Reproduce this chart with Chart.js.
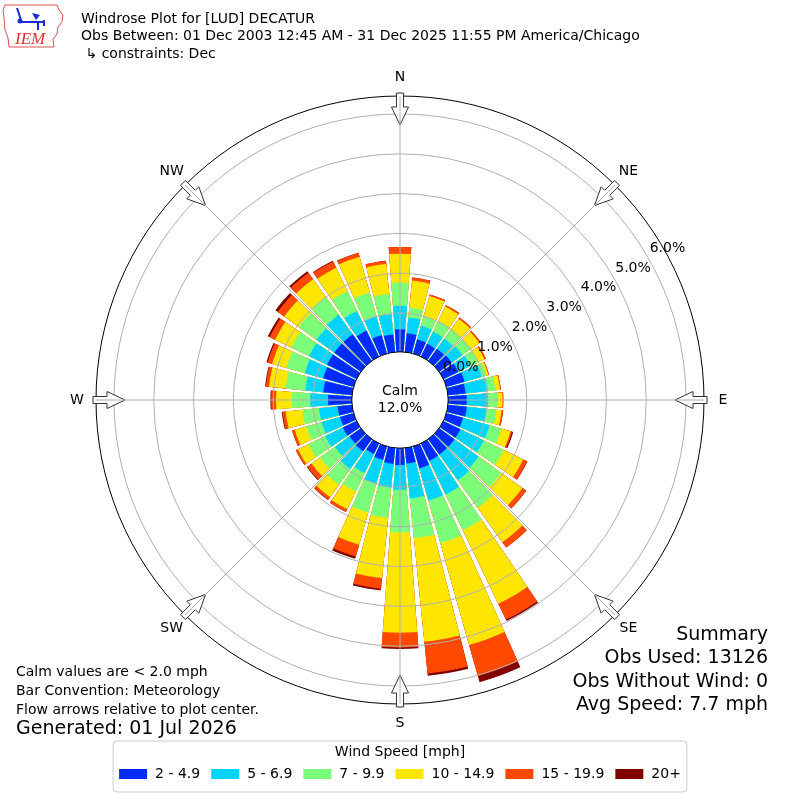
<!DOCTYPE html>
<html>
<head>
<meta charset="utf-8">
<title>Windrose LUD</title>
<script src="https://cdn.jsdelivr.net/npm/chart.js@4.4.0/dist/chart.umd.min.js"></script>
<style>
  html, body { margin: 0; padding: 0; background: #fff; }
  #wrap { width: 800px; height: 800px; }
</style>
</head>
<body>
<div id="wrap"><canvas id="rose" width="800" height="800"></canvas></div>
<script>
// wind directions (deg, meteorological) and speed bins
const directions = [0, 10, 20, 30, 40, 50, 60, 70, 80, 90, 100, 110, 120, 130, 140, 150, 160, 170,
  180, 190, 200, 210, 220, 230, 240, 250, 260, 270, 280, 290, 300, 310, 320, 330, 340, 350];
const speedBins = ['2 - 4.9', '5 - 6.9', '7 - 9.9', '10 - 14.9', '15 - 19.9', '20+'];
const binColors = ['#002bff', '#00d4ff', '#7bff7b', '#ffe600', '#ff4800', '#800000'];

// frequency [%] per direction for each speed bin
const bin2to5 = [0.59, 0.50, 0.40, 0.38, 0.40, 0.42, 0.44, 0.50, 0.47, 0.49, 0.50, 0.46, 0.50, 0.50, 0.50, 0.51, 0.60, 0.42,
  0.45, 0.43, 0.38, 0.32, 0.40, 0.38, 0.41, 0.38, 0.39, 0.62, 0.75, 0.82, 0.85, 0.85, 0.85, 0.75, 0.51, 0.47];
const bin5to7 = [0.59, 0.40, 0.35, 0.34, 0.32, 0.33, 0.34, 0.45, 0.56, 0.54, 0.50, 0.69, 0.65, 0.75, 0.80, 0.94, 0.84, 0.88,
  0.62, 0.60, 0.62, 0.53, 0.55, 0.45, 0.49, 0.48, 0.47, 0.45, 0.45, 0.48, 0.50, 0.55, 0.60, 0.55, 0.49, 0.51];
const bin7to10 = [0.58, 0.25, 0.25, 0.30, 0.28, 0.25, 0.22, 0.12, 0.19, 0.25, 0.25, 0.31, 0.55, 0.70, 0.85, 1.00, 1.11, 1.00,
  1.07, 0.76, 0.75, 0.52, 0.49, 0.46, 0.47, 0.40, 0.42, 0.46, 0.50, 0.48, 0.50, 0.55, 0.55, 0.55, 0.62, 0.51];
const bin10to15 = [0.73, 0.68, 0.53, 0.40, 0.33, 0.27, 0.17, 0.05, 0.12, 0.11, 0.13, 0.24, 0.55, 0.65, 1.07, 2.05, 2.66, 2.62,
  2.52, 1.52, 0.84, 0.49, 0.38, 0.26, 0.29, 0.30, 0.42, 0.40, 0.42, 0.37, 0.45, 0.45, 0.55, 0.65, 0.93, 0.76];
const bin15to20 = [0.17, 0.08, 0.04, 0.04, 0.04, 0.04, 0.04, 0.02, 0.02, 0.02, 0.04, 0.04, 0.11, 0.12, 0.16, 0.44, 0.81, 0.80,
  0.37, 0.27, 0.31, 0.08, 0.08, 0.13, 0.06, 0.07, 0.08, 0.12, 0.08, 0.12, 0.15, 0.20, 0.20, 0.18, 0.10, 0.08];
const bin20up = [0.00, 0.00, 0.00, 0.00, 0.00, 0.00, 0.00, 0.00, 0.00, 0.00, 0.00, 0.03, 0.01, 0.00, 0.00, 0.04, 0.16, 0.06,
  0.04, 0.04, 0.06, 0.00, 0.01, 0.02, 0.00, 0.00, 0.02, 0.02, 0.02, 0.03, 0.05, 0.07, 0.05, 0.02, 0.01, 0.00];

const ringTicks = [0, 1, 2, 3, 4, 5, 6];
const compassLabels = ['N', 'NE', 'E', 'SE', 'S', 'SW', 'W', 'NW'];
const calmPct = 12.0;

const titleLines = ['Windrose Plot for [LUD] DECATUR',
  'Obs Between: 01 Dec 2003 12:45 AM - 31 Dec 2025 11:55 PM America/Chicago',
  ' \u21b3 constraints: Dec'];
const summaryLines = ['Summary', 'Obs Used: 13126', 'Obs Without Wind: 0', 'Avg Speed: 7.7 mph'];
const noteLines = ['Calm values are < 2.0 mph', 'Bar Convention: Meteorology', 'Flow arrows relative to plot center.'];
const generatedLine = 'Generated: 01 Jul 2026';

// radial axis: 0% sits on the edge of the calm circle
const R_MIN = -1.186, R_MAX = 6.452;
const BAR_SPAN = 8.5;           // degrees of each 10 deg sector that is filled
const FONT = '"DejaVu Sans", sans-serif';

const binSeries = [bin2to5, bin5to7, bin7to10, bin10to15, bin15to20, bin20up];

// stacked rose: each dataset holds cumulative totals, smallest drawn on top
const running = directions.map(() => 0);
const datasets = binSeries.map((series, k) => {
  const data = [];
  series.forEach((v, i) => {
    running[i] += v;
    data.push(running[i], 0);   // bar, then the thin empty slot between bars
  });
  return {
    label: speedBins[k],
    data: data,
    backgroundColor: ctx => (ctx.dataIndex % 2 === 0 ? binColors[k] : 'rgba(0,0,0,0)'),
    borderWidth: 0,
    angle: ctx => (ctx.dataIndex % 2 === 0 ? BAR_SPAN : 10 - BAR_SPAN)
  };
});
const slotLabels = [];
directions.forEach(d => slotLabels.push(d + '\u00b0', ''));

const deg = Math.PI / 180;
function pt(s, r, bearing) {
  return [s.xCenter + r * Math.sin(bearing * deg), s.yCenter - r * Math.cos(bearing * deg)];
}

function drawArrow(ctx, s, bearing) {
  const R = s.drawingArea;
  const ux = Math.sin(bearing * deg), uy = -Math.cos(bearing * deg);
  const wx = -uy, wy = ux;
  const shape = [[R + 3, 3.5], [R - 11, 3.5], [R - 11, 8.5], [R - 29, 0], [R - 11, -8.5], [R - 11, -3.5], [R + 3, -3.5]];
  ctx.beginPath();
  shape.forEach(([r, w], i) => {
    const x = s.xCenter + ux * r + wx * w, y = s.yCenter + uy * r + wy * w;
    if (i) ctx.lineTo(x, y); else ctx.moveTo(x, y);
  });
  ctx.closePath();
  ctx.fillStyle = '#fff';
  ctx.fill();
  ctx.strokeStyle = '#333';
  ctx.lineWidth = 1;
  ctx.stroke();
}

function drawLogo(ctx) {
  ctx.save();
  ctx.strokeStyle = '#e05050';
  ctx.lineWidth = 1;
  ctx.beginPath();
  ctx.moveTo(5, 5); ctx.lineTo(57, 5); ctx.lineTo(59, 10); ctx.lineTo(63, 15); ctx.lineTo(62, 22);
  ctx.lineTo(58, 27); ctx.lineTo(57, 34); ctx.lineTo(53, 39); ctx.lineTo(54, 47); ctx.lineTo(9, 47);
  ctx.lineTo(8, 38); ctx.lineTo(5, 30); ctx.lineTo(4, 18); ctx.lineTo(3, 10); ctx.closePath();
  ctx.stroke();
  ctx.strokeStyle = '#1a2bd8';
  ctx.fillStyle = '#1a2bd8';
  ctx.lineWidth = 2;
  ctx.beginPath();
  ctx.moveTo(17, 8); ctx.lineTo(21, 20);
  ctx.moveTo(20, 22); ctx.lineTo(44, 22);
  ctx.moveTo(38, 22); ctx.lineTo(38, 30);
  ctx.moveTo(44, 20); ctx.lineTo(44, 26);
  ctx.stroke();
  ctx.beginPath(); ctx.arc(20, 21, 2.5, 0, 2 * Math.PI); ctx.fill();
  ctx.beginPath(); ctx.moveTo(32, 13); ctx.lineTo(40, 15); ctx.lineTo(36, 20); ctx.closePath(); ctx.fill();
  ctx.fillStyle = '#e03030';
  ctx.font = 'italic 17px "Liberation Serif", serif';
  ctx.textAlign = 'left';
  ctx.textBaseline = 'alphabetic';
  ctx.fillText('IEM', 15, 44);
  ctx.restore();
}

const decor = {
  id: 'roseDecor',
  beforeDraw(chart) {
    const ctx = chart.ctx;
    ctx.save();
    ctx.fillStyle = '#fff';
    ctx.fillRect(0, 0, chart.width, chart.height);
    ctx.restore();
  },
  afterDatasetsDraw(chart) {
    const ctx = chart.ctx, s = chart.scales.r;
    const cx = s.xCenter, cy = s.yCenter, R = s.drawingArea;
    const r0 = s.getDistanceFromCenterForValue(0);
    ctx.save();
    // calm hole
    ctx.beginPath();
    ctx.arc(cx, cy, r0 + 1, 0, 2 * Math.PI);
    ctx.fillStyle = '#fff';
    ctx.fill();
    // rings
    ctx.strokeStyle = '#b0b0b0';
    ctx.lineWidth = 1;
    ringTicks.forEach(v => {
      if (v === 0) return;
      ctx.beginPath();
      ctx.arc(cx, cy, s.getDistanceFromCenterForValue(v), 0, 2 * Math.PI);
      ctx.stroke();
    });
    // outer frame
    ctx.strokeStyle = '#000';
    ctx.beginPath();
    ctx.arc(cx, cy, R, 0, 2 * Math.PI);
    ctx.stroke();
    // flow arrows
    compassLabels.forEach((lab, i) => drawArrow(ctx, s, i * 45));
    // spokes
    ctx.strokeStyle = '#b0b0b0';
    compassLabels.forEach((lab, i) => {
      const a = pt(s, r0 + 1, i * 45), b = pt(s, R, i * 45);
      ctx.beginPath();
      ctx.moveTo(a[0], a[1]);
      ctx.lineTo(b[0], b[1]);
      ctx.stroke();
    });
    // calm circle edge
    ctx.strokeStyle = '#000';
    ctx.beginPath();
    ctx.arc(cx, cy, r0 + 1, 0, 2 * Math.PI);
    ctx.stroke();
    // compass labels
    ctx.fillStyle = '#000';
    ctx.font = '14px ' + FONT;
    ctx.textAlign = 'center';
    ctx.textBaseline = 'middle';
    compassLabels.forEach((lab, i) => {
      const p = pt(s, R + 19, i * 45);
      ctx.fillText(lab, p[0], p[1]);
    });
    // ring labels along the 60 deg line
    ctx.textAlign = 'left';
    ringTicks.forEach(v => {
      const p = pt(s, s.getDistanceFromCenterForValue(v), 60);
      ctx.fillText(v.toFixed(1) + '%', p[0] + 2, p[1] - 9);
    });
    // calm text
    ctx.textAlign = 'center';
    ctx.fillText('Calm', cx, cy - 9);
    ctx.fillText(calmPct.toFixed(1) + '%', cx, cy + 8);
    ctx.restore();
  },
  afterDraw(chart) {
    const ctx = chart.ctx;
    ctx.save();
    drawLogo(ctx);
    ctx.fillStyle = '#000';
    ctx.textBaseline = 'middle';
    ctx.textAlign = 'left';
    ctx.font = '14px ' + FONT;
    titleLines.forEach((t, i) => ctx.fillText(t, 81, 19 + i * 17.5));

    noteLines.forEach((t, i) => ctx.fillText(t, 16, 672 + i * 19));
    ctx.font = '19px ' + FONT;
    ctx.fillText(generatedLine, 16, 729);

    ctx.textAlign = 'right';
    ctx.font = '19px ' + FONT;
    summaryLines.forEach((t, i) => ctx.fillText(t, 768, 635 + i * 23.5));

    // speed legend
    ctx.font = '14px ' + FONT;
    const sw = 28, sh = 10, tg = 8, eg = 11;
    const widths = speedBins.map(t => ctx.measureText(t).width);
    const total = widths.reduce((a, w) => a + sw + tg + w, 0) + eg * (speedBins.length - 1);
    let x = 400 - total / 2;
    const bx = x - 6, by = 741, bw = total + 12, bh = 51;
    ctx.beginPath();
    ctx.roundRect(bx, by, bw, bh, 4);
    ctx.fillStyle = 'rgba(255,255,255,0.8)';
    ctx.fill();
    ctx.strokeStyle = '#cccccc';
    ctx.lineWidth = 1;
    ctx.stroke();
    ctx.fillStyle = '#000';
    ctx.textAlign = 'center';
    ctx.fillText('Wind Speed [mph]', 400, 752);
    ctx.textAlign = 'left';
    speedBins.forEach((t, k) => {
      ctx.fillStyle = binColors[k];
      ctx.fillRect(x, 769, sw, sh);
      ctx.fillStyle = '#000';
      ctx.fillText(t, x + sw + tg, 774);
      x += sw + tg + widths[k] + eg;
    });
    ctx.restore();
  }
};

new Chart(document.getElementById('rose'), {
  type: 'polarArea',
  data: { labels: slotLabels, datasets: datasets },
  options: {
    responsive: false,
    animation: false,
    events: [],
    devicePixelRatio: 1,
    layout: { padding: 96 },
    scales: {
      r: {
        min: R_MIN,
        max: R_MAX,
        startAngle: -BAR_SPAN / 2,
        grid: { display: false },
        angleLines: { display: false },
        pointLabels: { display: false },
        ticks: { display: false }
      }
    },
    plugins: {
      legend: { display: false },
      tooltip: { enabled: false },
      title: { display: false }
    }
  },
  plugins: [decor]
});
</script>
</body>
</html>
